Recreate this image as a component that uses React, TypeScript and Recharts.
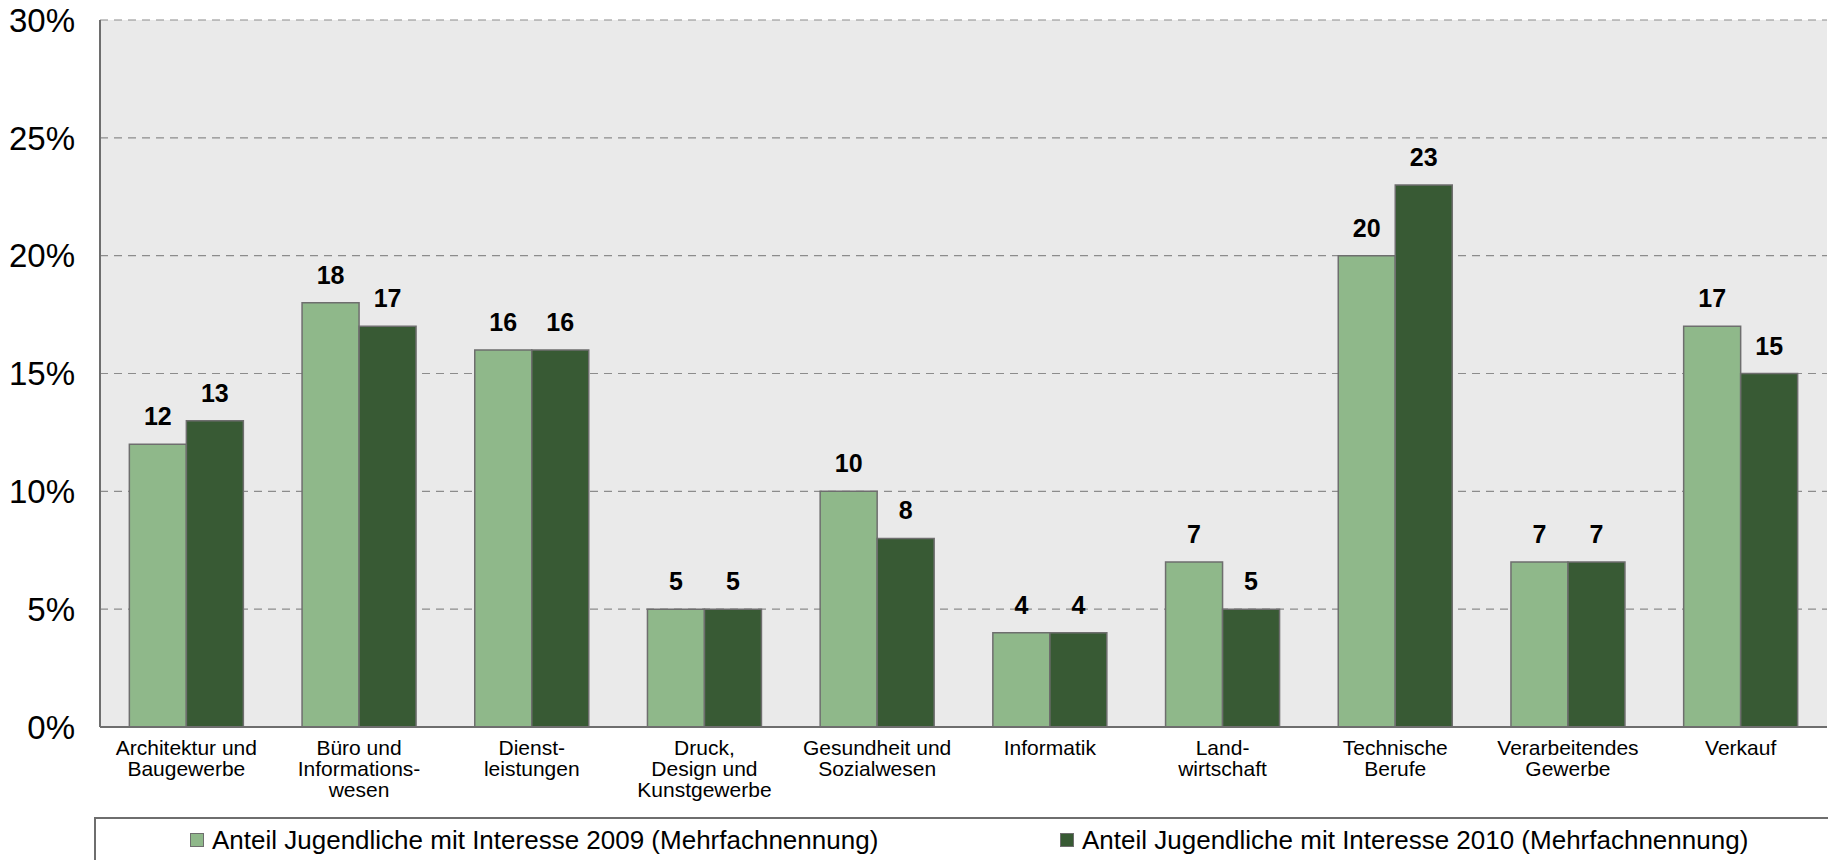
import React from "react";
import { BarChart, Bar, XAxis, YAxis, CartesianGrid, Legend, LabelList } from "recharts";

const categoryLines = [
  ["Architektur und", "Baugewerbe"],
  ["Büro und", "Informations-", "wesen"],
  ["Dienst-", "leistungen"],
  ["Druck,", "Design und", "Kunstgewerbe"],
  ["Gesundheit und", "Sozialwesen"],
  ["Informatik"],
  ["Land-", "wirtschaft"],
  ["Technische", "Berufe"],
  ["Verarbeitendes", "Gewerbe"],
  ["Verkauf"],
];
const categories = categoryLines.map((l) => l.join(" "));
const values2009 = [12, 18, 16, 5, 10, 4, 7, 20, 7, 17];
const values2010 = [13, 17, 16, 5, 8, 4, 5, 23, 7, 15];
const yTicks = [0, 5, 10, 15, 20, 25, 30];
const seriesNames = [
  "Anteil Jugendliche mit Interesse 2009 (Mehrfachnennung)",
  "Anteil Jugendliche mit Interesse 2010 (Mehrfachnennung)",
];

const LIGHT = "#8fb88a";
const DARK = "#385a34";
const EDGE = "#6e6e6e";
const FONT = "'Liberation Sans', Arial, Helvetica, sans-serif";

const data = categories.map((name, i) => ({
  name,
  v2009: values2009[i],
  v2010: values2010[i],
}));

function CategoryTick({ x, y, payload }: any) {
  const idx = categories.indexOf(payload.value);
  const lines = categoryLines[idx] || [payload.value];
  return (
    <text x={x} textAnchor="middle" fontSize={21} fill="#000">
      {lines.map((line, i) => (
        <tspan key={i} x={x} y={y + 28 + i * 21}>
          {line}
        </tspan>
      ))}
    </text>
  );
}

const legendLeft = [94, 964];
const legendColors = [LIGHT, DARK];

function LegendBox() {
  return (
    <div
      style={{
        position: "relative",
        width: 1760,
        height: 60,
        border: `2px solid ${EDGE}`,
        boxSizing: "border-box",
        background: "#fff",
        fontFamily: FONT,
      }}
    >
      {seriesNames.map((name, i) => (
        <div
          key={name}
          style={{
            position: "absolute",
            left: legendLeft[i],
            top: 8,
            display: "flex",
            alignItems: "center",
            fontSize: 26,
            lineHeight: "26px",
            whiteSpace: "nowrap",
            color: "#000",
          }}
        >
          <span
            style={{
              display: "inline-block",
              width: 14,
              height: 14,
              background: legendColors[i],
              border: `1.5px solid ${EDGE}`,
              boxSizing: "border-box",
              marginRight: 8,
            }}
          />
          {name}
        </div>
      ))}
    </div>
  );
}

export default function App() {
  return (
    <div
      style={{
        position: "absolute",
        left: 0,
        top: 0,
        width: 1828,
        height: 860,
        overflow: "hidden",
        background: "#fff",
        fontFamily: FONT,
      }}
    >
      <BarChart
        width={1828}
        height={860}
        data={data}
        margin={{ top: 20, right: 1, bottom: 0, left: 0 }}
        barCategoryGap="17%"
        barGap={0}
      >
        <CartesianGrid
          vertical={false}
          stroke="#8c8c8c"
          strokeDasharray="8 6"
          strokeWidth={1.2}
          fill="#eaeaea"
        />
        <XAxis
          dataKey="name"
          height={133}
          interval={0}
          tickLine={false}
          tickSize={0}
          tickMargin={0}
          axisLine={{ stroke: EDGE, strokeWidth: 2 }}
          tick={<CategoryTick />}
        />
        <XAxis
          xAxisId="top"
          dataKey="name"
          orientation="top"
          height={0}
          tick={false}
          tickLine={false}
          axisLine={{ stroke: EDGE, strokeWidth: 2.5 }}
        />
        <YAxis
          width={100}
          domain={[0, 30]}
          ticks={yTicks}
          tickFormatter={(v) => `${v}%`}
          tickLine={false}
          tickSize={0}
          tickMargin={25}
          axisLine={{ stroke: EDGE, strokeWidth: 2 }}
          tick={{ fontSize: 33, fill: "#000" }}
        />
        <YAxis
          yAxisId="right"
          orientation="right"
          width={0}
          domain={[0, 30]}
          tick={false}
          tickLine={false}
          axisLine={{ stroke: EDGE, strokeWidth: 2 }}
        />
        <Legend
          layout="horizontal"
          verticalAlign="middle"
          align="center"
          wrapperStyle={{ left: 94, top: 817, width: 1760, height: 60 }}
          content={<LegendBox />}
        />
        <Bar
          dataKey="v2009"
          name={seriesNames[0]}
          fill={LIGHT}
          stroke={EDGE}
          strokeWidth={1.5}
          isAnimationActive={false}
        >
          <LabelList
            dataKey="v2009"
            position="top"
            offset={19}
            fill="#000"
            fontSize={25}
            fontWeight="bold"
          />
        </Bar>
        <Bar
          dataKey="v2010"
          name={seriesNames[1]}
          fill={DARK}
          stroke={EDGE}
          strokeWidth={1.5}
          isAnimationActive={false}
        >
          <LabelList
            dataKey="v2010"
            position="top"
            offset={19}
            fill="#000"
            fontSize={25}
            fontWeight="bold"
          />
        </Bar>
      </BarChart>
    </div>
  );
}
